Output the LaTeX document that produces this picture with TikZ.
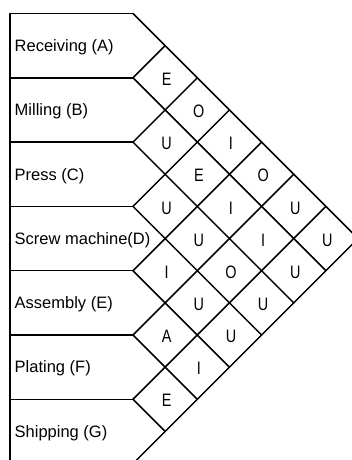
\documentclass[tikz,border=0pt]{standalone}
\usepackage{fontspec}
\setmainfont{Liberation Sans}
\begin{document}
\begin{tikzpicture}[x=1pt,y=-1pt,
  gridline/.style={line width=1.5pt, line cap=round, line join=miter},
  lbl/.style={anchor=west, font=\fontsize{16.5}{18}\selectfont, inner sep=0pt},
  rel/.style={font=\fontsize{18}{20}\selectfont, inner sep=0pt, xscale=0.8}]
\useasboundingbox (0,0) rectangle (352,460);
\clip (0,0) rectangle (352,460);
\def\L{10}
\def\X{133}
\def\T{13.5}
\def\H{64.3}
\def\h{32.15}
% left edge
\draw[gridline] (\L,\T) -- (\L,{\T+7*\H});
% horizontal dividers
\foreach \k in {0,...,7}
  \draw[gridline] (\L,{\T+\k*\H}) -- (\X,{\T+\k*\H});
% down-right lines
\foreach \k in {0,...,6}
  \draw[gridline] (\X,{\T+\k*\H}) -- ++({(7-\k)*\h},{(7-\k)*\h});
% up-right lines
\foreach \k in {1,...,7}
  \draw[gridline] (\X,{\T+\k*\H}) -- ++({\k*\h},{-\k*\h});
% department labels
\foreach \k/\n/\t in {0/A/Receiving (A),1/B/Milling (B),2/C/Press (C),3/D/Screw machine(D),4/E/Assembly (E),5/F/Plating (F),6/G/Shipping (G)}
  \node[lbl] (dept\n) at (14.5,{\T+\k*\H+\h+1.5}) {\t};
% relationship letters
\foreach \i/\j/\t in {0/1/E,1/2/U,2/3/U,3/4/I,4/5/A,5/6/E,
                      0/2/O,1/3/E,2/4/U,3/5/U,4/6/I,
                      0/3/I,1/4/I,2/5/O,3/6/U,
                      0/4/O,1/5/I,2/6/U,
                      0/5/U,1/6/U,
                      0/6/U}
  \node[rel] (r\i\j) at ({\X+(\j-\i)*\h+1.5},{\T+(\i+\j+1)*\h+1.5}) {\t};
\end{tikzpicture}
\end{document}
